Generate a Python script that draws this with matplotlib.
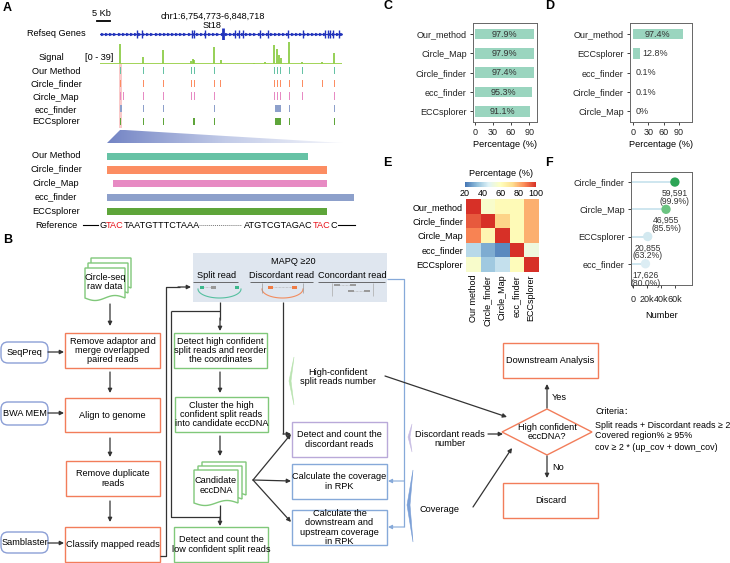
import numpy as np
import matplotlib
matplotlib.use('Agg')
import matplotlib.pyplot as plt
from matplotlib.patches import Rectangle, FancyBboxPatch, Polygon
from matplotlib.colors import LinearSegmentedColormap

plt.rcParams['font.family'] = ['Liberation Sans', 'DejaVu Sans', 'Noto Sans CJK SC']

W, H = 730, 563
FS = 6.6

# ---------------- data ----------------
region_label = 'chr1:6,754,773-6,848,718'
region_kb = 94.0
gene_exons_kb = [14.4, 16.3, 35.7, 36.5, 40.8, 47.8, 52.4, 54.0, 55.5, 62.1, 65.3,
                 73.0, 78.8, 87.4, 88.6, 89.3, 90.5, 92.8]
signal_pos_kb = [7.8, 16.7, 24.5, 35.3, 36.1, 36.5, 44.3, 47.0, 60.0, 64.1, 67.6, 68.8,
                 69.5, 70.3, 73.4, 78.5, 86.2, 90.9]
signal_val = [35, 13, 24, 6, 9, 7, 30, 7, 2, 3, 33, 26, 15, 10, 39, 4, 3, 19]

track_names = ['Our Method', 'Circle_finder', 'Circle_Map', 'ecc_finder', 'ECCsplorer']
track_colors = ['#66c2a5', '#fc8d62', '#e78ac3', '#8da0cb', '#5ea53a']
calls_start = [
    [7.8, 16.7, 24.5, 35.3, 36.5, 44.3, 67.6, 68.8, 69.9, 73.4, 78.5, 90.9],
    [7.8, 16.7, 24.5, 35.3, 36.5, 44.3, 46.6, 67.6, 68.8, 69.9, 73.4, 78.5, 86.2, 90.9],
    [7.6, 9.0, 16.7, 24.5, 35.3, 36.5, 44.3, 67.6, 68.8, 69.9, 73.4, 78.5, 90.9],
    [7.6, 16.7, 24.5, 44.3, 68.0, 73.4, 90.9],
    [7.8, 16.7, 24.5, 36.3, 44.3, 68.0, 73.4, 90.9],
]
calls_width = [
    [0.5] * 12,
    [0.5] * 14,
    [0.5] * 13,
    [1.0, 0.5, 0.5, 0.5, 2.2, 0.5, 0.5],
    [0.5, 0.5, 0.5, 0.5, 0.5, 2.2, 0.5, 0.5],
]
zoom_start = [0, 0, 6, 0, 0]
zoom_end = [201, 220, 220, 247, 220]
ref_left = [('G', 'black'), ('TAC', 'red'), ('TAATGTTTCTAAA', 'black')]
ref_right = [('ATGTCGTAGAC', 'black'), ('TAC', 'red'), ('C', 'black')]

c_methods = ['Our_method', 'Circle_Map', 'Circle_finder', 'ecc_finder', 'ECCsplorer']
c_pct = [97.9, 97.9, 97.4, 95.3, 91.1]
d_methods = ['Our_method', 'ECCsplorer', 'ecc_finder', 'Circle_finder', 'Circle_Map']
d_pct = [97.4, 12.8, 0.1, 0.1, 0]

e_rows = ['Our_method', 'Circle_finder', 'Circle_Map', 'ecc_finder', 'ECCsplorer']
e_cols = ['Our method', 'Circle_finder', 'Circle_Map', 'ecc_finder', 'ECCsplorer']
e_vals = np.array([
    [100, 57, 62, 62, 81],
    [94, 100, 75, 62, 81],
    [88, 64, 100, 62, 81],
    [40, 30, 24, 100, 53],
    [57, 36, 42, 61, 100],
])

f_methods = ['Circle_finder', 'Circle_Map', 'ECCsplorer', 'ecc_finder']
f_num = [59591, 46955, 20855, 17626]
f_pct = [99.9, 85.5, 63.2, 80.0]
f_colors = ['#2ca556', '#6cc482', '#d3e9f0', '#dcedf4']

# ---------------- figure ----------------
fig = plt.figure(figsize=(7.3, 5.63), dpi=100)
axm = fig.add_axes([0, 0, 1, 1])
axm.set_xlim(0, W)
axm.set_ylim(H, 0)
axm.axis('off')
renderer = fig.canvas.get_renderer()


def px_axes(x0, y0, x1, y1):
    a = fig.add_axes([x0 / W, 1 - y1 / H, (x1 - x0) / W, (y1 - y0) / H])
    a.set_facecolor('none')
    return a


def style_axes(a):
    for s in a.spines.values():
        s.set_color('#666666')
        s.set_linewidth(0.7)
    a.tick_params(labelsize=6.5, length=2.5, width=0.6, pad=2, colors='#222222')


# ---------------- Panel A ----------------
axm.text(3, 8, 'A', weight='bold', fontsize=9, va='center')
axm.text(101, 13, '5 Kb', ha='center', va='center', fontsize=FS)
sb = 5 * 242 / region_kb
axm.plot([97, 97 + sb], [21, 21], color='black', lw=1.3)
axm.text(213, 16, region_label, ha='center', va='center', fontsize=FS)
axm.text(212, 26, 'St18', ha='center', va='center', fontsize=FS)
axm.text(56, 34, 'Refseq Genes', ha='center', va='center', fontsize=FS)
axm.text(51, 58, 'Signal', ha='center', va='center', fontsize=FS)
axm.text(113, 57, '[0 - 39]', ha='right', va='center', fontsize=FS)

# gene track
axg = px_axes(100, 28, 342, 40)
axg.axis('off')
axg.set_xlim(0, region_kb)
axg.set_ylim(-1, 1)
axg.plot([0, region_kb], [0, 0], color='#2233bb', lw=0.8)
chev = np.arange(0.8, region_kb, 1.6)
axg.plot(chev, np.zeros(len(chev)), ls='none', marker='>', ms=1.5, color='#2233bb')
for i, e in enumerate(gene_exons_kb):
    hh = 0.95 if i == 5 else 0.6
    axg.vlines(e, -hh, hh, color='#2233bb', lw=2.0 if i == 5 else 1.0)

# signal
axs = px_axes(100, 41, 342, 64)
axs.axis('off')
axs.set_xlim(0, region_kb)
axs.set_ylim(0, 40)
axs.vlines(signal_pos_kb, 0, signal_val, color='#84c83a', lw=1.2)
axs.plot([0, region_kb], [0.8, 0.8], color='#9bd14a', lw=1.3)

# tracks
axt = px_axes(100, 64, 342, 128)
axt.axis('off')
axt.set_xlim(0, region_kb)
axt.set_ylim(4.5, -0.5)
axt.axvspan(7.5, 8.7, color='#f5a8a8', alpha=0.6, lw=0)
for r in range(5):
    axt.barh([r] * len(calls_start[r]), calls_width[r], left=calls_start[r], height=0.55,
             color=track_colors[r], lw=0)
track_y = [71, 84, 98, 110, 122]
for n, yy in zip(track_names, track_y):
    axm.text(56, yy, n, ha='center', va='center', fontsize=FS)

# zoom trapezoid
poly = Polygon([(120, 130), (125, 130), (343, 143), (107, 143)], closed=True,
               fc='none', ec='none')
axm.add_patch(poly)
grad = np.linspace(0, 1, 256)[None, :]
gcm = LinearSegmentedColormap.from_list('g', ['#7384c4', '#c2cbe8', '#f5f6fb'])
im = axm.imshow(grad, extent=(107, 343, 143, 130), cmap=gcm, aspect='auto',
                interpolation='bilinear')
im.set_clip_path(poly)
axm.set_xlim(0, W)
axm.set_ylim(H, 0)

# zoomed bars
axz = px_axes(107, 149.5, 354, 218)
axz.axis('off')
axz.set_xlim(0, 247)
axz.set_ylim(4.5, -0.5)
axz.barh(range(5), np.array(zoom_end) - np.array(zoom_start), left=zoom_start,
         height=0.52, color=track_colors)
zoom_y = [156, 169, 183, 197, 211]
for n, yy in zip(track_names, zoom_y):
    axm.text(56, yy, n, ha='center', va='center', fontsize=FS)


# reference sequence with red TAC motifs (pieces placed one after another)
def seq_pieces(x0, pieces):
    x = x0
    for s, col in pieces:
        tt = axm.text(x, 225, s, ha='left', va='center', fontsize=FS,
                      color='#e8141c' if col == 'red' else 'black')
        x += tt.get_window_extent(renderer).width
    return x


axm.text(56, 225, 'Reference', ha='center', va='center', fontsize=FS)
axm.plot([83, 98], [225, 225], color='black', lw=0.8)
seq_pieces(99, ref_left)
axm.plot([199, 241], [225, 225], color='#777777', lw=0.7, ls=(0, (1, 1)))
xe = seq_pieces(244, ref_right)
axm.plot([xe + 1, 355], [225, 225], color='black', lw=0.8)

# ---------------- Panel C ----------------
axm.text(383, 6, 'C', weight='bold', fontsize=9, va='center')
axc = px_axes(473, 23, 537, 122)
style_axes(axc)
yc = np.arange(len(c_methods))
axc.barh(yc, c_pct, height=0.55, color='#9ad5bf')
axc.set_ylim(4.55, -0.57)
axc.set_xlim(-3, 103)
for yi, v in zip(yc, c_pct):
    axc.text(v / 2, yi, f'{v}%', ha='center', va='center', fontsize=6.5, color='#333333')
axc.set_yticks(yc, c_methods)
axc.set_xticks([0, 30, 60, 90])
axc.set_xlabel('Percentage (%)', fontsize=FS, labelpad=2)

# ---------------- Panel D ----------------
axm.text(545, 6, 'D', weight='bold', fontsize=9, va='center')
axd = px_axes(630, 23, 692, 122)
style_axes(axd)
yd = np.arange(len(d_methods))
axd.barh(yd, d_pct, height=0.55, color='#9ad5bf')
axd.set_ylim(4.55, -0.57)
axd.set_xlim(-6, 116)
for yi, v in zip(yd, d_pct):
    if v > 50:
        axd.text(v / 2, yi, f'{v:g}%', ha='center', va='center', fontsize=6.5, color='#333333')
    else:
        axd.text(v + 5, yi, f'{v:g}%', ha='left', va='center', fontsize=6.5, color='#333333')
axd.set_yticks(yd, d_methods)
axd.set_xticks([0, 30, 60, 90])
axd.set_xlabel('Percentage (%)', fontsize=FS, labelpad=2)

# ---------------- Panel E ----------------
axm.text(383, 163, 'E', weight='bold', fontsize=9, va='center')
hm_cmap = LinearSegmentedColormap.from_list(
    'hm', ['#4575b4', '#91bfdb', '#e0f3f8', '#ffffbf', '#fee090', '#fc8d59', '#d73027'])
axe = px_axes(466, 199, 538, 272)
ime = axe.imshow(e_vals, cmap=hm_cmap, vmin=20, vmax=100, aspect='auto')
axe.set_xticks(range(5), e_cols, rotation=90, fontsize=6.5)
axe.set_yticks(range(5), e_rows, fontsize=6.5)
axe.tick_params(length=0, pad=2)
for s in axe.spines.values():
    s.set_visible(False)
axcb = px_axes(465, 182, 536, 187)
cb = fig.colorbar(ime, cax=axcb, orientation='horizontal')
cb.set_ticks([20, 40, 60, 80, 100])
cb.ax.tick_params(labelsize=6.5, length=0, pad=1.5)
cb.outline.set_visible(False)
axm.text(501, 174, 'Percentage (%)', ha='center', va='center', fontsize=FS)

# ---------------- Panel F ----------------
axm.text(545, 163, 'F', weight='bold', fontsize=9, va='center')
axf = px_axes(631, 172, 692, 285)
style_axes(axf)
yf = np.arange(len(f_methods))
axf.set_xlim(-3000, 84000)
axf.set_ylim(3.78, -0.37)
axf.hlines(yf, -3000, f_num, color='#c6e2ec', lw=1.2)
axf.scatter(f_num, yf, s=45, c=f_colors, zorder=3, edgecolors='none')
for yi, n, p in zip(yf, f_num, f_pct):
    axf.annotate(f'{n:,}\n({p:.1f}%)', xy=(n, yi), xytext=(0, -11), textcoords='offset points',
                 ha='center', va='center', fontsize=6.2, linespacing=0.85, color='#333333')
axf.set_yticks(yf, f_methods)
axf.set_xticks([0, 20000, 40000, 60000], ['0', '20k', '40k', '60k'])
axf.tick_params(axis='x', pad=5)
axf.set_xlabel('Number', fontsize=FS, labelpad=5)

# ---------------- Panel B (flowchart) ----------------
ORANGE = '#f27d5a'
GREEN = '#80c87a'
TOOL = '#8c9fd6'
PURPLE = '#b9a9d9'
LBLUE = '#86a9d9'
DARK = '#333333'

axm.text(3, 240, 'B', weight='bold', fontsize=9, va='center')


def box(x0, y0, x1, y1, ec, text, fc='white', rounded=False, fs=FS):
    if rounded:
        p = FancyBboxPatch((x0, y0), x1 - x0, y1 - y0,
                           boxstyle='round,pad=0,rounding_size=7', fc=fc, ec=ec, lw=1.0)
    else:
        p = Rectangle((x0, y0), x1 - x0, y1 - y0, fc=fc, ec=ec, lw=1.0)
    axm.add_patch(p)
    if text:
        axm.text((x0 + x1) / 2, (y0 + y1) / 2, text, ha='center', va='center',
                 fontsize=fs, linespacing=1.05)


def arrow(p0, p1, color=DARK, lw=0.9):
    axm.annotate('', xy=p1, xytext=p0,
                 arrowprops=dict(arrowstyle='-|>', color=color, lw=lw, mutation_scale=6,
                                 shrinkA=0, shrinkB=0))


def line(pts, color=DARK, lw=0.9):
    xs, ys = zip(*pts)
    axm.plot(xs, ys, color=color, lw=lw, solid_capstyle='butt')


def doc(x0, y0, w, h, ec, amp=2.5):
    s = np.linspace(1, 0, 40)
    bx = x0 + w * s
    by = y0 + h + amp * np.sin(2 * np.pi * s)
    verts = [(x0, y0), (x0 + w, y0)] + list(zip(bx, by))
    axm.add_patch(Polygon(verts, closed=True, fc='white', ec=ec, lw=1.0))


def stack(x0, y0, w, h, ec, text, dx=4, dy=5):
    for k in (2, 1, 0):
        doc(x0 + dx * k, y0 - dy * k, w, h, ec)
    axm.text(x0 + w / 2, y0 + h / 2 - 1, text, ha='center', va='center', fontsize=FS,
             linespacing=1.05)


# raw data document
stack(85, 268, 40, 30, GREEN, 'Circle-seq\nraw data', dx=3, dy=5)
arrow((110, 304), (110, 326))

# left orange boxes
box(65, 333, 160, 368, ORANGE, 'Remove adaptor and\nmerge overlapped\npaired reads')
arrow((110, 372), (110, 393))
box(65, 398, 160, 432, ORANGE, 'Align to genome')
arrow((110, 438), (110, 457))
box(66, 461, 160, 496, ORANGE, 'Remove duplicate\nreads')
arrow((110, 501), (110, 522))
box(65, 527, 160, 562, ORANGE, 'Classify mapped reads')

# tool boxes
box(1, 342, 48, 363, TOOL, 'SeqPreq', rounded=True)
arrow((48, 352), (64, 352))
box(1, 402, 48, 425, TOOL, 'BWA MEM', rounded=True)
arrow((48, 413), (64, 413))
box(1, 532, 48, 553, TOOL, 'Samblaster', rounded=True)
arrow((48, 543), (64, 543))

# classify -> MAPQ
line([(160, 556), (166, 556), (166, 287), (180, 287)])
arrow((178, 287), (191, 287))

# MAPQ box
box(193, 253, 387, 302, 'none', None, fc='#dfe6ef')
axm.text(293, 262, 'MAPQ ≥20', ha='center', va='center', fontsize=FS)
axm.text(217, 275, 'Split read', ha='center', va='center', fontsize=FS)
axm.text(282, 275, 'Discordant read', ha='center', va='center', fontsize=FS)
axm.text(352, 275, 'Concordant read', ha='center', va='center', fontsize=FS)
for a, b in [(193, 238), (250, 313), (318, 385)]:
    line([(a, 282), (b, 282)], color='#555555', lw=0.6)
# split read glyph
th = np.linspace(0, np.pi, 40)
axm.plot(219.5 + 21.5 * np.cos(th), 289 + 9 * np.sin(th), color='#55c0a0', lw=0.8)
axm.add_patch(Rectangle((200, 286), 4, 2.5, fc='#3cb88c', ec='none'))
axm.add_patch(Rectangle((211, 286), 5, 2.5, fc='#999999', ec='none'))
axm.plot([204, 211], [287.2, 287.2], color='#aaaaaa', lw=0.5, ls=(0, (1, 1)))
axm.add_patch(Rectangle((235, 286), 4, 3, fc='#3cb88c', ec='none'))
# discordant read glyph
axm.plot(282.5 + 20.5 * np.cos(th), 289 + 9 * np.sin(th), color='#f28c5e', lw=0.8)
for xx in (262, 303):
    line([(xx, 283), (xx, 293)], color='#999999', lw=0.5)
axm.add_patch(Rectangle((268, 285.5), 5, 3, fc='#f07c44', ec='none'))
axm.add_patch(Rectangle((292, 285.5), 5, 3, fc='#f07c44', ec='none'))
axm.plot([273, 292], [287, 287], color='#aaaaaa', lw=0.5, ls=(0, (1, 1)))
# concordant glyph
for xx in (332, 373):
    line([(xx, 283), (xx, 296)], color='#aaaaaa', lw=0.5)
for (a, b, yy) in [(334, 340, 285), (350, 356, 285), (348, 354, 291), (364, 370, 291)]:
    axm.add_patch(Rectangle((a, yy - 1), b - a, 2.2, fc='#9a9a9a', ec='none'))
axm.plot([340, 350], [285, 285], color='#aaaaaa', lw=0.5, ls=(0, (1, 1)))
axm.plot([354, 364], [291, 291], color='#aaaaaa', lw=0.5, ls=(0, (1, 1)))

# split read branch
line([(220, 302), (220, 320)])
arrow((220, 318), (220, 331))
line([(171, 311), (220, 311)])
line([(171, 311), (171, 517), (220, 517)])
line([(220, 505), (220, 520)])
arrow((220, 517), (220, 526))

# green boxes
box(174, 333, 267, 368, GREEN, 'Detect high confident\nsplit reads and reorder\nthe coordinates')
arrow((220, 372), (220, 393))
box(175, 397, 268, 432, GREEN, 'Cluster the high\nconfident split reads\ninto candidate eccDNA')
arrow((220, 436), (220, 456))
stack(194, 470, 44, 33, GREEN, 'Candidate\neccDNA', dx=4, dy=4)
box(174, 527, 268, 562, GREEN, 'Detect and count the\nlow confident split reads')

# candidate -> right boxes
arrow((253, 480), (291, 434))
arrow((253, 480), (291, 481))
arrow((253, 480), (291, 522))

# discordant branch
line([(283, 302), (283, 434)])
arrow((283, 434), (291, 434))

# right column boxes
box(292, 422, 387, 457, PURPLE, 'Detect and count the\ndiscordant reads')
box(292, 464, 387, 499, LBLUE, 'Calculate the coverage\nin RPK')
box(292, 510, 387, 545, LBLUE, 'Calculate the\ndownstream and\nupstream coverage\nin RPK')

# concordant branch
line([(387, 279), (404, 279), (404, 527)], color=LBLUE)
arrow((404, 481), (388, 481), color=LBLUE, lw=0.8)
arrow((404, 527), (388, 527), color=LBLUE, lw=0.8)

# braces
axm.add_patch(Polygon([(294, 357), (289, 381), (294, 405), (291, 381)], closed=True,
                      fc='#b9e3b0', ec='#b9e3b0', lw=0.4))
axm.add_patch(Polygon([(412, 424), (408, 437), (412, 452), (410, 437)], closed=True,
                      fc='#c8bde3', ec='#c8bde3', lw=0.4))
axm.add_patch(Polygon([(413, 470), (407, 505), (413, 542), (410, 505)], closed=True,
                      fc='#7b9fd6', ec='#7b9fd6', lw=0.4))

axm.text(338, 377, 'High-confident\nsplit reads number', ha='center', va='center',
         fontsize=FS, linespacing=1.05)
axm.text(450, 439, 'Discordant reads\nnumber', ha='center', va='center', fontsize=FS,
         linespacing=1.05)
axm.text(440, 510, 'Coverage', ha='center', va='center', fontsize=FS)

arrow((385, 376), (507, 417))
arrow((488, 434), (503, 434))
arrow((473, 507), (512, 448))

# diamond
cx, cy, hw, hh = 547, 432, 45, 23
axm.add_patch(Polygon([(cx - hw, cy), (cx, cy - hh), (cx + hw, cy), (cx, cy + hh)],
                      closed=True, fc='white', ec=ORANGE, lw=1.0))
axm.text(cx, cy, 'High confident\neccDNA?', ha='center', va='center', fontsize=FS,
         linespacing=1.05)
box(503, 343, 598, 378, ORANGE, 'Downstream Analysis')
arrow((547, 408), (547, 384))
axm.text(552, 397, 'Yes', ha='left', va='center', fontsize=FS)
arrow((547, 456), (547, 478))
axm.text(552, 467, 'No', ha='left', va='center', fontsize=FS)
box(503, 483, 598, 518, ORANGE, 'Discard')

CFS = 6.4
axm.text(595, 412, 'Criteria：', ha='left', va='center', fontsize=CFS)
axm.text(595, 425, 'Split reads + Discordant reads ≥ 2', ha='left', va='center', fontsize=CFS)
axm.text(595, 436, 'Covered region% ≥ 95%', ha='left', va='center', fontsize=CFS)
axm.text(595, 447, 'cov ≥ 2 * (up_cov + down_cov)', ha='left', va='center', fontsize=CFS)

fig.savefig('out.png', dpi=100)
